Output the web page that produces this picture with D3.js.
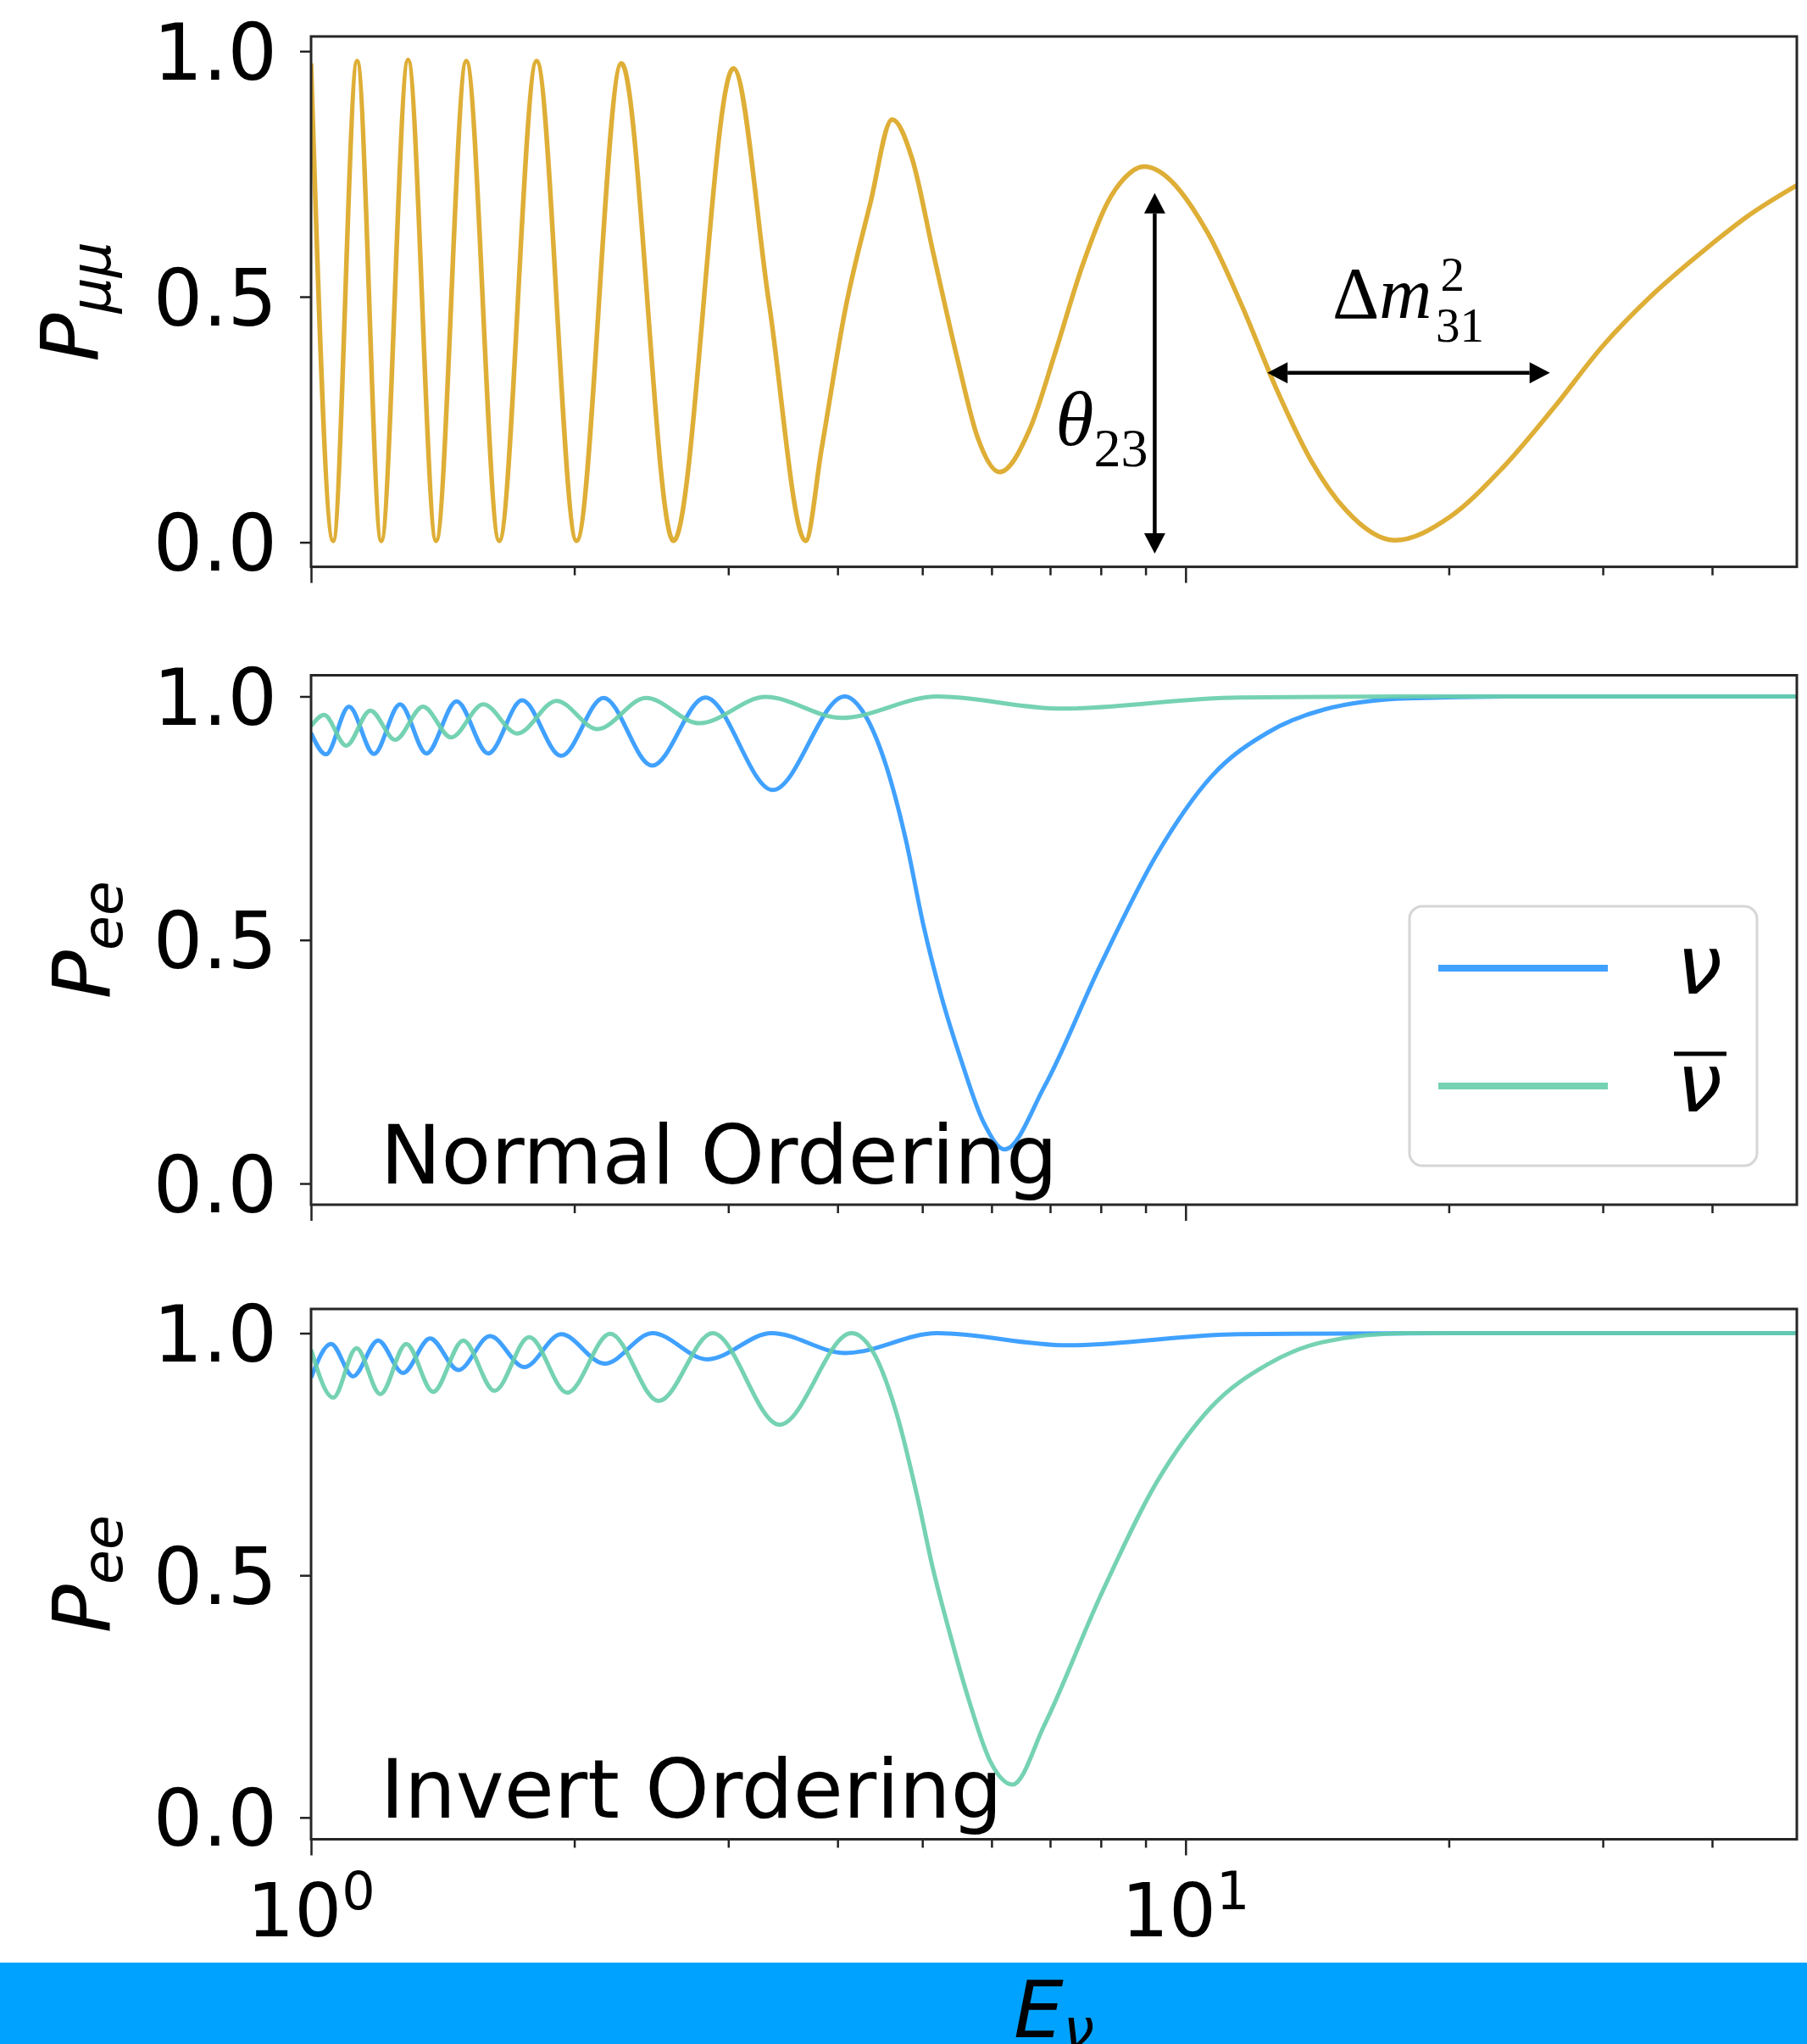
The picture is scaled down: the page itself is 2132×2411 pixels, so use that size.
<!DOCTYPE html>
<html>
<head>
<meta charset="utf-8">
<script src="https://cdn.jsdelivr.net/npm/d3@7"></script>
<style>
  body { margin: 0; background: #fff; }
  svg { display: block; }
</style>
</head>
<body>
<svg id="chart" width="2132" height="2411"></svg>
<script>
// values: neutrino energy and probability
const pmmE = [1.0, 1.06, 1.129, 1.203, 1.291, 1.39, 1.505, 1.641, 1.811, 2.012, 2.264, 2.597, 3.041, 3.34, 3.677, 3.835, 4.08, 4.36, 4.618, 4.87, 5.145, 5.49, 5.78, 6.13, 6.63, 7.1, 7.61, 8.15, 8.5, 8.96, 10.6, 11.61, 12.72, 13.93, 15.26, 17.35, 20.07, 23.0, 26.4, 30, 34, 39.5, 44, 50]
const pmmP = [0.975, 0.003, 0.98, 0.003, 0.982, 0.003, 0.98, 0.003, 0.98, 0.003, 0.975, 0.003, 0.965, 0.486, 0.003, 0.19, 0.472, 0.69, 0.861, 0.78, 0.59, 0.37, 0.215, 0.143, 0.229, 0.388, 0.56, 0.693, 0.74, 0.765, 0.63, 0.48, 0.31, 0.165, 0.065, 0.004, 0.052, 0.15, 0.275, 0.40, 0.50, 0.6, 0.665, 0.727]

const noNuE = [1.0, 1.04, 1.105, 1.18, 1.264, 1.355, 1.467, 1.594, 1.743, 1.932, 2.16, 2.455, 2.824, 3.372, 4.077, 4.299, 4.536, 4.786, 5.015, 5.256, 5.534, 5.877, 6.21, 6.9, 7.99, 9.26, 10.72, 12.42, 14.39, 17.93, 25, 50]
const noNuP = [0.925, 0.881, 0.979, 0.882, 0.984, 0.883, 0.99, 0.883, 0.992, 0.878, 0.997, 0.858, 0.998, 0.808, 1.0, 0.962, 0.863, 0.707, 0.53, 0.385, 0.255, 0.125, 0.07, 0.2, 0.448, 0.674, 0.837, 0.926, 0.973, 0.996, 1.0, 1.0]
const noBarE = [1.0, 1.035, 1.097, 1.169, 1.248, 1.343, 1.446, 1.574, 1.721, 1.909, 2.125, 2.416, 2.78, 3.309, 4.043, 5.2, 7.21, 11.5, 20, 50]
const noBarP = [0.939, 0.962, 0.899, 0.971, 0.911, 0.979, 0.916, 0.984, 0.924, 0.991, 0.933, 0.997, 0.945, 0.999, 0.956, 1.0, 0.975, 0.998, 1.0, 1.0]

const ioNuE = [1.0, 1.054, 1.117, 1.193, 1.274, 1.368, 1.474, 1.602, 1.753, 1.932, 2.166, 2.457, 2.839, 3.362, 4.085, 5.2, 7.32, 11.5, 20, 50]
const ioNuP = [0.908, 0.978, 0.911, 0.985, 0.918, 0.989, 0.924, 0.994, 0.93, 0.998, 0.937, 1.0, 0.946, 1.0, 0.959, 1.0, 0.975, 0.998, 1.0, 1.0]
const ioBarE = [1.0, 1.06, 1.127, 1.2, 1.285, 1.379, 1.493, 1.621, 1.776, 1.963, 2.198, 2.497, 2.879, 3.434, 4.15, 4.397, 4.68, 4.938, 5.14, 5.376, 5.646, 5.983, 6.341, 6.9, 7.99, 9.26, 10.72, 12.42, 14.39, 17.93, 50]
const ioBarP = [0.966, 0.867, 0.969, 0.874, 0.978, 0.879, 0.985, 0.881, 0.992, 0.877, 0.999, 0.86, 1.0, 0.811, 1.0, 0.96, 0.83, 0.66, 0.515, 0.38, 0.245, 0.115, 0.068, 0.192, 0.457, 0.691, 0.849, 0.936, 0.982, 1.0, 1.0]

const yTicks = [0, 0.5, 1.0]
const xMajor = [1, 10]
const xMinor = [2, 3, 4, 5, 6, 7, 8, 9, 20, 30, 40]
const xTickLabels = [['10', '0'], ['10', '1']]
const yLabelSubs = ['μμ', 'ee', 'ee']
const panelNotes = ['', 'Normal Ordering', 'Invert Ordering']
const legendLabels = ['ν', 'ν']

// annotation anchors in data units (panel 1)
const thetaArrow = { e: [9.22, 9.22], p: [-0.023, 0.711] }
const dmArrow = { e: [12.4, 26.1], p: [0.345, 0.345] }
const thetaLabelAt = [7.1, 0.198]
const dmLabelAt = [14.72, 0.457]

// layout
const left = 367, right = 2120
const panels = [
  { top: 43, bottom: 668.6, ylim: [-0.05, 1.03], labelX: 116 },
  { top: 796.5, bottom: 1421, ylim: [-0.0435, 1.0435], labelX: 130 },
  { top: 1544, bottom: 2169.5, ylim: [-0.045, 1.05], labelX: 130 }
]
const blue = 'dodgerblue', green = 'mediumaquamarine', gold = 'goldenrod'
const series = [
  [{ e: pmmE, p: pmmP, color: gold, op: 0.9, w: 5.5 }],
  [{ e: noNuE, p: noNuP, color: blue, op: 0.85, w: 5 }, { e: noBarE, p: noBarP, color: green, op: 0.9, w: 5 }],
  [{ e: ioNuE, p: ioNuP, color: blue, op: 0.85, w: 5 }, { e: ioBarE, p: ioBarP, color: green, op: 0.9, w: 5 }]
]

const svg = d3.select('#chart')
const x = d3.scaleLog().domain([1, 50]).range([left, right])
const sans = 'DejaVu Sans'
const serif = 'Liberation Serif'

const arrow = (g, x1, y1, x2, y2) => {
  const len = Math.hypot(x2 - x1, y2 - y1)
  const ux = (x2 - x1) / len, uy = (y2 - y1) / len
  const hl = 24, hw = 12.5
  g.append('line')
    .attr('x1', x1 + ux * hl).attr('y1', y1 + uy * hl)
    .attr('x2', x2 - ux * hl).attr('y2', y2 - uy * hl)
    .attr('stroke', '#000').attr('stroke-width', 4.5)
  const head = (tx, ty, dx, dy) => {
    const bx = tx - dx * hl, by = ty - dy * hl
    g.append('path')
      .attr('d', `M${tx},${ty}L${bx - dy * hw},${by + dx * hw}L${bx + dy * hw},${by - dx * hw}Z`)
      .attr('fill', '#000')
  }
  head(x2, y2, ux, uy)
  head(x1, y1, -ux, -uy)
}

panels.forEach((pan, i) => {
  const y = d3.scaleLinear().domain(pan.ylim).range([pan.bottom, pan.top])
  const g = svg.append('g')

  svg.append('clipPath').attr('id', 'clip' + i)
    .append('rect')
    .attr('x', left).attr('y', pan.top)
    .attr('width', right - left).attr('height', pan.bottom - pan.top)

  const line = d3.line()
    .x(d => x(d[0]))
    .y(d => y(d[1]))
    .curve(d3.curveMonotoneX)

  const lines = g.append('g').attr('clip-path', `url(#clip${i})`)
  series[i].forEach(s => {
    lines.append('path')
      .datum(d3.zip(s.e, s.p))
      .attr('d', line)
      .attr('fill', 'none')
      .attr('stroke', s.color)
      .attr('stroke-opacity', s.op)
      .attr('stroke-width', s.w)
      .attr('stroke-linejoin', 'round')
  })

  // y axis
  const ya = g.append('g')
    .attr('transform', `translate(${left},0)`)
    .call(d3.axisLeft(y).tickValues(yTicks).tickSize(13).tickPadding(27).tickFormat(d3.format('.1f')))
  ya.select('.domain').remove()
  ya.selectAll('line').attr('stroke', '#222').attr('stroke-width', 2.5)
  ya.selectAll('text')
    .attr('font-size', 92).attr('font-family', sans)
    .attr('dy', '0.36em').attr('fill', '#000')

  // x axis, major and minor ticks
  const xa = g.append('g')
    .attr('transform', `translate(0,${pan.bottom})`)
    .call(d3.axisBottom(x).tickValues(xMajor).tickSize(19).tickFormat(''))
  const xm = g.append('g')
    .attr('transform', `translate(0,${pan.bottom})`)
    .call(d3.axisBottom(x).tickValues(xMinor).tickSize(10).tickFormat(''))
  xa.select('.domain').remove()
  xm.select('.domain').remove()
  g.selectAll('.tick line').attr('stroke', '#222').attr('stroke-width', 2.5)

  if (i === 2) {
    xMajor.forEach((v, k) => {
      const t = g.append('text')
        .attr('x', x(v)).attr('y', pan.bottom + 114.5)
        .attr('text-anchor', 'middle')
        .attr('font-family', sans).attr('font-size', 88)
      t.append('tspan').text(xTickLabels[k][0])
      t.append('tspan').attr('font-size', 62).attr('dy', -32).text(xTickLabels[k][1])
    })
  }

  // frame
  g.append('rect')
    .attr('x', left).attr('y', pan.top)
    .attr('width', right - left).attr('height', pan.bottom - pan.top)
    .attr('fill', 'none').attr('stroke', '#262626').attr('stroke-width', 3)

  // y label
  const yl = g.append('text')
    .attr('transform', `translate(${pan.labelX},${(pan.top + pan.bottom) / 2}) rotate(-90)`)
    .attr('text-anchor', 'middle')
    .attr('font-family', sans).attr('font-style', 'italic').attr('font-size', 95)
  yl.append('tspan').text('P')
  yl.append('tspan').attr('font-size', 66.5).attr('dy', 14).text(yLabelSubs[i])

  if (panelNotes[i]) {
    g.append('text')
      .attr('x', x(1.2)).attr('y', y(0))
      .attr('font-family', sans).attr('font-size', 96)
      .attr('fill', '#000')
      .text(panelNotes[i])
  }

  if (i === 0) {
    arrow(g, x(thetaArrow.e[0]), y(thetaArrow.p[0]), x(thetaArrow.e[1]), y(thetaArrow.p[1]))
    arrow(g, x(dmArrow.e[0]), y(dmArrow.p[0]), x(dmArrow.e[1]), y(dmArrow.p[1]))

    const th = g.append('text')
      .attr('x', x(thetaLabelAt[0])).attr('y', y(thetaLabelAt[1]))
      .attr('font-family', serif).attr('font-size', 92)
    th.append('tspan').attr('font-style', 'italic').text('θ')
    th.append('tspan').attr('font-size', 64).attr('dy', 25).text('23')

    const dm = g.append('text')
      .attr('x', x(dmLabelAt[0])).attr('y', y(dmLabelAt[1]))
      .attr('font-family', serif).attr('font-size', 86)
    dm.append('tspan').text('Δ')
    dm.append('tspan').attr('font-style', 'italic').text('m')
    dm.append('tspan').attr('font-size', 57).attr('dx', 10).attr('dy', -32).text('2')
    dm.append('tspan').attr('font-size', 57).attr('dx', -34).attr('dy', 60).text('31')
  }

  if (i === 1) {
    const lg = g.append('g')
    lg.append('rect')
      .attr('x', 1663).attr('y', 1069).attr('width', 410).attr('height', 306)
      .attr('rx', 15).attr('fill', '#fff').attr('fill-opacity', 0.8)
      .attr('stroke', '#d6d6d6').attr('stroke-width', 3)
    const rows = [{ c: blue, op: 0.85, y: 1142 }, { c: green, op: 0.9, y: 1281 }]
    rows.forEach((r, k) => {
      lg.append('line')
        .attr('x1', 1697).attr('x2', 1897).attr('y1', r.y).attr('y2', r.y)
        .attr('stroke', r.c).attr('stroke-opacity', r.op).attr('stroke-width', 8)
      lg.append('text')
        .attr('x', 2005).attr('y', r.y + 30)
        .attr('text-anchor', 'middle')
        .attr('font-family', sans).attr('font-style', 'italic').attr('font-size', 96)
        .text(legendLabels[k])
    })
    // bar over the second nu
    lg.append('line')
      .attr('x1', 1975).attr('x2', 2037).attr('y1', 1243).attr('y2', 1243)
      .attr('stroke', '#000').attr('stroke-width', 5)
  }
})

// blue band with the x label
svg.append('rect')
  .attr('x', 0).attr('y', 2315).attr('width', 2132).attr('height', 96)
  .attr('fill', '#00a2ff')
const xl = svg.append('text')
  .attr('x', (left + right) / 2).attr('y', 2403)
  .attr('text-anchor', 'middle')
  .attr('font-family', sans).attr('font-style', 'italic').attr('font-size', 93)
xl.append('tspan').text('E')
xl.append('tspan').attr('font-size', 65).attr('dy', 13).text('ν')
</script>
</body>
</html>
